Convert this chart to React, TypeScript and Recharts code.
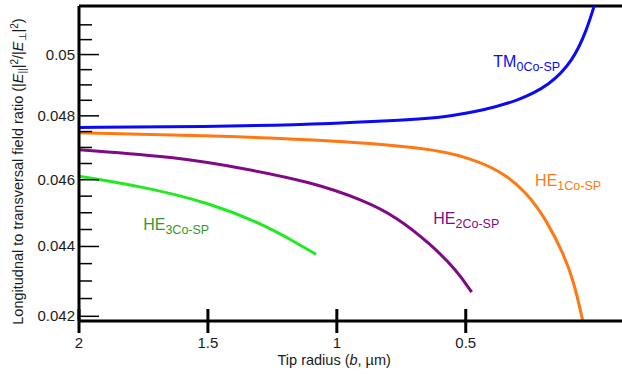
import { LineChart, Line, XAxis, YAxis, ReferenceLine, ReferenceDot } from 'recharts'

// ─── Data ─────────────────────────────────────────────────────────────────────

const TM0_X = [2.0, 1.53, 0.995, 0.638, 0.561, 0.433, 0.302, 0.173, 0.083, 0.031, 0.0]
const TM0_Y = [0.04763, 0.04765, 0.04775, 0.04791, 0.04799, 0.04818, 0.04847, 0.04899, 0.04981, 0.05082, 0.0517]

const HE1_X = [2.0, 1.531, 0.995, 0.638, 0.496, 0.367, 0.264, 0.186, 0.12, 0.081, 0.047]
const HE1_Y = [0.04746, 0.04738, 0.04722, 0.04697, 0.0467, 0.04629, 0.04562, 0.04477, 0.04377, 0.04299, 0.0419]

const HE2_X = [2.0, 1.616, 1.356, 1.1, 0.897, 0.768, 0.638, 0.535, 0.477]
const HE2_Y = [0.04693, 0.0467, 0.04634, 0.04593, 0.04538, 0.04487, 0.04408, 0.04331, 0.04268]

const HE3_X = [2.0, 1.744, 1.488, 1.294, 1.162, 1.081]
const HE3_Y = [0.04611, 0.04578, 0.04528, 0.04468, 0.04413, 0.04377]

const X_TICKS = [2, 1.5, 1, 0.5]
const Y_TICKS = [0.042, 0.0425, 0.043, 0.0435, 0.044, 0.0445, 0.045, 0.0455, 0.046, 0.0465,
  0.047, 0.0475, 0.048, 0.0485, 0.049, 0.0495, 0.05, 0.0505, 0.051]
const Y_LABELS: Record<string, string> = {
  '0.042': '0.042', '0.044': '0.044', '0.046': '0.046', '0.048': '0.048', '0.05': '0.05',
}

const X_DOMAIN = [-0.106, 2]
const Y_DOMAIN = [0.041869, 0.051644]

// ─── Styling ──────────────────────────────────────────────────────────────────

const FONT = '"Liberation Sans", Arial, sans-serif'
const TEXT = '#1a1a1a'

const SERIES = [
  { key: 'tm0', xs: TM0_X, ys: TM0_Y, color: '#0a0af5', label: 'TM', sub: '0Co-SP', labelColor: '#0a0af5', at: [0.393, 0.04959] },
  { key: 'he1', xs: HE1_X, ys: HE1_Y, color: '#ff7814', label: 'HE', sub: '1Co-SP', labelColor: '#ff7814', at: [0.231, 0.0458] },
  { key: 'he2', xs: HE2_X, ys: HE2_Y, color: '#800a85', label: 'HE', sub: '2Co-SP', labelColor: '#800a85', at: [0.626, 0.04465] },
  { key: 'he3', xs: HE3_X, ys: HE3_Y, color: '#22ea22', label: 'HE', sub: '3Co-SP', labelColor: '#2e9a2e', at: [1.751, 0.04448] },
]

const zip = (xs: number[], ys: number[]) => xs.map((x, i) => ({ x, y: ys[i] }))

// ─── Ticks & labels ───────────────────────────────────────────────────────────

function YTick({ x, y, payload }: any) {
  const lbl = Y_LABELS[String(payload.value)]
  return (
    <g>
      <line x1={x} x2={x + (lbl ? 20 : 13)} y1={y} y2={y} stroke="#000" strokeWidth={1.5} />
      {lbl && (
        <text x={x - 4} y={y} dy={5} textAnchor="end" fontFamily={FONT} fontSize={15} fill={TEXT}>
          {lbl}
        </text>
      )}
    </g>
  )
}

function XTick({ x, y, payload }: any) {
  return (
    <g>
      <line x1={x} x2={x} y1={y - 12} y2={y + 12} stroke="#000" strokeWidth={3} />
      <text x={x} y={y + 27} textAnchor="middle" fontFamily={FONT} fontSize={15} fill={TEXT}>
        {payload.value}
      </text>
    </g>
  )
}

function YLabel({ viewBox }: any) {
  const cx = 18
  const cy = viewBox.y + viewBox.height / 2 + 8
  return (
    <text
      x={cx} y={cy}
      transform={`rotate(-90 ${cx} ${cy})`}
      textAnchor="middle"
      fontFamily={FONT}
      fontSize={14.5}
      fill={TEXT}
      dy={5}
    >
      Longitudnal to transversal field ratio (|<tspan fontStyle="italic">E</tspan>
      <tspan fontSize={10} dy={3}>||</tspan>
      <tspan dy={-3}>|</tspan>
      <tspan fontSize={10} dy={-5}>2</tspan>
      <tspan dy={5}>/|</tspan>
      <tspan fontStyle="italic">E</tspan>
      <tspan fontSize={10} dy={3}>⊥</tspan>
      <tspan dy={-3}>|</tspan>
      <tspan fontSize={10} dy={-5}>2</tspan>
      <tspan dy={5}>)</tspan>
    </text>
  )
}

function XLabel({ viewBox }: any) {
  return (
    <text
      x={viewBox.x + viewBox.width * 0.47}
      y={viewBox.y + 44}
      textAnchor="middle"
      fontFamily={FONT}
      fontSize={14.5}
      fill={TEXT}
    >
      Tip radius (<tspan fontStyle="italic">b</tspan>, µm)
    </text>
  )
}

function SeriesLabel({ cx, cy, main, sub, color }: any) {
  return (
    <text x={cx} y={cy} fill={color} fontFamily={FONT} fontSize={16}>
      {main}
      <tspan fontSize={12.5} dy={4}>{sub}</tspan>
    </text>
  )
}

// ─── App ──────────────────────────────────────────────────────────────────────

export default function App() {
  return (
    <div style={{ position: 'absolute', left: 0, top: 0, background: '#fff' }}>
      <LineChart width={622} height={374} margin={{ top: 6, right: 0, left: 0, bottom: 0 }}>
        <XAxis
          dataKey="x"
          type="number"
          domain={X_DOMAIN}
          reversed
          allowDataOverflow
          ticks={X_TICKS}
          tick={<XTick />}
          tickLine={false}
          tickSize={0}
          tickMargin={0}
          interval={0}
          height={53}
          axisLine={{ stroke: '#000', strokeWidth: 3 }}
          label={{ content: XLabel }}
        />
        <YAxis
          type="number"
          scale="log"
          domain={Y_DOMAIN}
          allowDataOverflow
          ticks={Y_TICKS}
          tick={<YTick />}
          tickLine={false}
          tickSize={0}
          tickMargin={0}
          interval={0}
          width={79}
          axisLine={{ stroke: '#000', strokeWidth: 3 }}
          label={{ content: YLabel }}
        />
        <ReferenceLine y={Y_DOMAIN[1]} stroke="#000" strokeWidth={3} />

        {SERIES.map((s) => (
          <Line
            key={s.key}
            data={zip(s.xs, s.ys)}
            dataKey="y"
            type="basis"
            stroke={s.color}
            strokeWidth={3}
            dot={false}
            activeDot={false}
            isAnimationActive={false}
          />
        ))}

        {SERIES.map((s) => (
          <ReferenceDot
            key={`lbl-${s.key}`}
            x={s.at[0]}
            y={s.at[1]}
            ifOverflow="visible"
            shape={(p: any) => (
              <SeriesLabel cx={p.cx} cy={p.cy} main={s.label} sub={s.sub} color={s.labelColor} />
            )}
          />
        ))}
      </LineChart>
    </div>
  )
}
